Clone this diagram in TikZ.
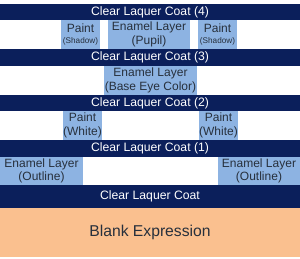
\documentclass[tikz,border=0pt]{standalone}
\usepackage{fontspec}
\setmainfont{Liberation Sans}
\definecolor{navy}{HTML}{0B1F5B}
\definecolor{lblue}{HTML}{8DB3E2}
\definecolor{peach}{HTML}{FAC08F}
\definecolor{boxtext}{HTML}{27303C}
\begin{document}
\begin{tikzpicture}[x=1pt,y=1pt,
  band/.style={fill=navy, text=white, inner sep=0pt, minimum width=300pt, font=\fontsize{12.2}{14}\selectfont},
  layer/.style={fill=lblue, text=boxtext, inner sep=0pt, align=center, font=\fontsize{12}{13.5}\selectfont}]
\useasboundingbox (0,0) rectangle (300,259);
\fill[white] (0,0) rectangle (300,259);
% bands
\node[band, minimum height=16pt] (c4) at (150,247) {Clear Laquer Coat (4)};
\node[band, minimum height=17pt] (c3) at (150,201.5) {Clear Laquer Coat (3)};
\node[band, minimum height=16pt] (c2) at (150,156) {Clear Laquer Coat (2)};
\node[band, minimum height=17pt] (c1) at (150,110.5) {Clear Laquer Coat (1)};
\node[band, minimum height=23pt] (c0) at (150,62.5) {Clear Laquer Coat};
\node[fill=peach, text=boxtext, inner sep=0pt, minimum width=300pt, minimum height=49pt, font=\fontsize{15.7}{18}\selectfont] (blank) at (150,26.5) {Blank Expression};
% row under coat 4
\node[layer, minimum width=39pt, minimum height=29pt] (ps1) at (80.5,224.5) {Paint\\[-2pt]{\fontsize{8.2}{9}\selectfont(Shadow)}};
\node[layer, minimum width=82pt, minimum height=29pt] (ep) at (149,224.5) {Enamel Layer\\(Pupil)};
\node[layer, minimum width=39pt, minimum height=29pt] (ps2) at (217.5,224.5) {Paint\\[-2pt]{\fontsize{8.2}{9}\selectfont(Shadow)}};
% row under coat 3
\node[layer, minimum width=93pt, minimum height=29pt] (eb) at (150.5,178.5) {Enamel Layer\\(Base Eye Color)};
% row under coat 2
\node[layer, minimum width=39pt, minimum height=29pt] (pw1) at (82.5,133.5) {Paint\\(White)};
\node[layer, minimum width=39pt, minimum height=29pt] (pw2) at (218.5,133.5) {Paint\\(White)};
% row under coat 1
\node[layer, minimum width=83pt, minimum height=28pt] (eo1) at (41.5,88) {Enamel Layer\\(Outline)};
\node[layer, minimum width=82pt, minimum height=28pt] (eo2) at (259,88) {Enamel Layer\\(Outline)};
\end{tikzpicture}
\end{document}
